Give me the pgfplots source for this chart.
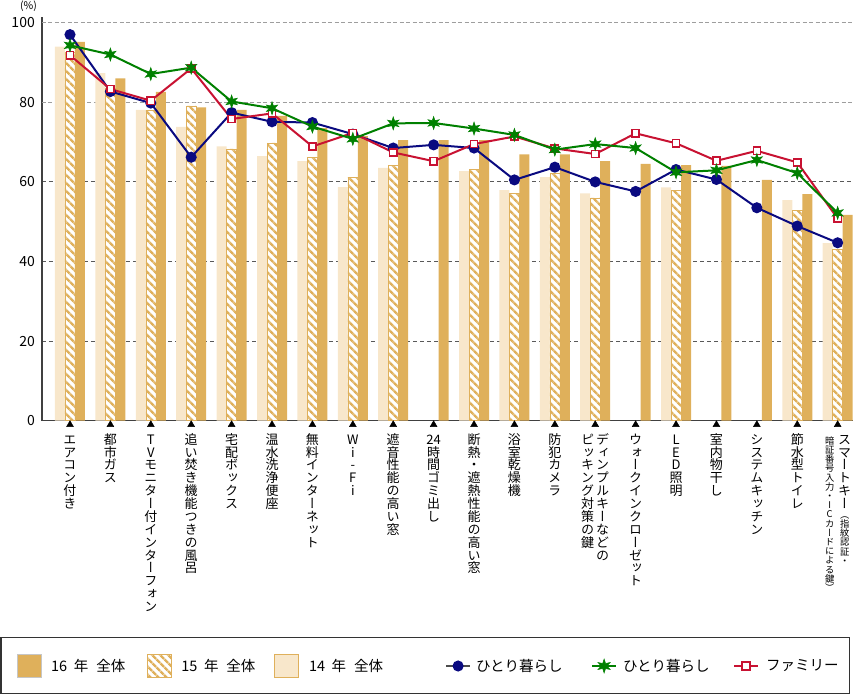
\documentclass[border=0pt]{standalone}
\usepackage{pgfplots}
\pgfplotsset{compat=1.18}
\usetikzlibrary{patterns.meta}
\usepackage{fontspec}
\setmainfont{Noto Sans CJK JP}
\newfontfamily\jpv[RawFeature=+vert]{Noto Sans CJK JP}

\definecolor{c16}{RGB}{223,176,91}
\definecolor{c14}{RGB}{248,231,203}
\definecolor{navyc}{RGB}{10,10,128}
\definecolor{greenc}{RGB}{0,128,0}
\definecolor{redc}{RGB}{200,18,50}

\pgfdeclareplotmark{star6}{%
  \pgfpathmoveto{\pgfpointpolar{90}{\pgfplotmarksize}}%
  \pgfpathlineto{\pgfpointpolar{120}{0.42\pgfplotmarksize}}%
  \pgfpathlineto{\pgfpointpolar{150}{\pgfplotmarksize}}%
  \pgfpathlineto{\pgfpointpolar{180}{0.42\pgfplotmarksize}}%
  \pgfpathlineto{\pgfpointpolar{210}{\pgfplotmarksize}}%
  \pgfpathlineto{\pgfpointpolar{240}{0.42\pgfplotmarksize}}%
  \pgfpathlineto{\pgfpointpolar{270}{\pgfplotmarksize}}%
  \pgfpathlineto{\pgfpointpolar{300}{0.42\pgfplotmarksize}}%
  \pgfpathlineto{\pgfpointpolar{330}{\pgfplotmarksize}}%
  \pgfpathlineto{\pgfpointpolar{0}{0.42\pgfplotmarksize}}%
  \pgfpathlineto{\pgfpointpolar{30}{\pgfplotmarksize}}%
  \pgfpathlineto{\pgfpointpolar{60}{0.42\pgfplotmarksize}}%
  \pgfpathclose
  \pgfusepathqfillstroke}

% vertical (tategaki) label helpers
\newdimen\vtw
\def\vtstop{VTSTOP}
\def\vtcell#1{\hbox to\vtw{\hss\vrule height.87em depth.12em width0pt\relax #1\hss}}
\def\vtloop#1{\ifx\vtstop#1\else\vtcell{#1}\expandafter\vtloop\fi}
\protected\def\labfont{\jpv\fontsize{13bp}{13bp}\selectfont}
\protected\def\labsfont{\jpv\fontsize{9.3bp}{9.3bp}\selectfont}
\protected\def\vl#1{\vtop{\offinterlineskip\labfont\vtw=13bp\vtloop#1\vtstop}}
\protected\def\vll#1#2{\hbox{\vl{#2}\kern2bp\vl{#1}}}
\protected\def\smartkey{\hbox{\vtop{\offinterlineskip\labsfont\vtw=11bp\vtloop 暗証番号入力・ICカードによる鍵）\vtstop}\kern3bp\vtop{\offinterlineskip\vtw=13bp\labfont\vtloop スマートキー\vtstop\labsfont\vtloop （指紋認証・\vtstop}}}
\protected\def\yr#1{#1\hspace{0.45em}年\hspace{0.55em}全体}

\pgfplotsset{
  sw16/.style={legend image code/.code={\draw[fill=c16,draw=gray!45,line width=0.5bp] (0bp,-11.7bp) rectangle (23.4bp,11.7bp);}},
  sw15/.style={legend image code/.code={\draw[fill=white,draw=c16,line width=0.8bp,postaction={pattern={Lines[angle=-45,distance=6bp,line width=3bp]},pattern color=c16}] (0bp,-11.7bp) rectangle (23.4bp,11.7bp);}},
  sw14/.style={legend image code/.code={\draw[fill=c14,draw=c16,line width=0.8bp] (0bp,-11.7bp) rectangle (23.4bp,11.7bp);}},
}

\begin{document}
\begin{tikzpicture}
\begin{axis}[
  scale only axis, width=811bp, height=404bp,
  xmin=-0.693, xmax=19.38, ymin=0, ymax=101.5,
  clip=false,
  axis lines*=left,
  axis line style={draw=black!75, line width=1.3bp},
  /pgf/number format/assume math mode=true,
  xtick={0,...,19},
  xticklabels={
    {\vl{エアコン付き}},
    {\vl{都市ガス}},
    {\vl{TVモニター付インターフォン}},
    {\vl{追い焚き機能つきの風呂}},
    {\vl{宅配ボックス}},
    {\vl{温水洗浄便座}},
    {\vl{無料インターネット}},
    {\vl{Wi-Fi}},
    {\vl{遮音性能の高い窓}},
    {\vl{{24}時間ゴミ出し}},
    {\vl{断熱・遮熱性能の高い窓}},
    {\vl{浴室乾燥機}},
    {\vl{防犯カメラ}},
    {\vll{ディンプルキーなどの}{ピッキング対策の鍵}},
    {\vl{ウォークインクローゼット}},
    {\vl{LED照明}},
    {\vl{室内物干し}},
    {\vl{システムキッチン}},
    {\vl{節水型トイレ}},
    {\smartkey}
  },
  xticklabel style={anchor=north, inner sep=0pt, yshift=-12bp},
  ytick={0,20,40,60},
  extra y ticks={80,100},
  yticklabel style={font=\fontsize{14bp}{14bp}\selectfont, inner sep=0pt, xshift=-7bp},
  major tick length=0pt,
  ymajorgrids,
  major grid style={draw=black!65, dash pattern=on 4bp off 3bp, line width=0.9bp},
  extra y tick style={ymajorgrids=true, major tick length=0pt, major grid style={draw=black!38, dash pattern=on 4bp off 2.5bp, line width=0.9bp}},
  legend image code/.code={\draw[mark repeat=2,mark phase=2,#1] plot coordinates {(0bp,0bp) (12bp,0bp) (24bp,0bp)};},
  legend columns=6,
  legend style={at={(0,0)}, anchor=west, xshift=-24.7bp, yshift=-245.3bp,
    draw=none, fill=none, inner sep=0pt, outer sep=0pt,
    /tikz/column sep=0pt, nodes={inner sep=0pt, outer sep=0pt},
    font=\fontsize{14.5bp}{14.5bp}\selectfont},
]
\coordinate (O) at (rel axis cs:0,0);

% legend entries
\addlegendimage{sw16}
\addlegendentry{\makebox[106bp][l]{\hspace{10bp}\yr{16}}}
\addlegendimage{sw15}
\addlegendentry{\makebox[102.9bp][l]{\hspace{10bp}\yr{15}}}
\addlegendimage{sw14}
\addlegendentry{\makebox[146.6bp][l]{\hspace{10.6bp}\yr{14}}}
\addlegendimage{draw=black!70, line width=2bp, mark=*, mark size=4.5bp, mark options={draw=navyc, fill=navyc}}
\addlegendentry{\makebox[120bp][l]{\hspace{5bp}ひとり暮らし}}
\addlegendimage{draw=greenc, line width=2bp, mark=star6, mark size=7bp, mark options={draw=greenc, fill=greenc, line width=0.5bp}}
\addlegendentry{\makebox[116bp][l]{\hspace{6bp}ひとり暮らし}}
\addlegendimage{draw=redc, line width=2bp, mark=square*, mark size=4bp, mark options={draw=redc, fill=white, line width=1.6bp}}
\addlegendentry{\makebox[89bp][l]{\hspace{7bp}ファミリー}}

% 14年 全体
\addplot[ybar, bar width=10bp, bar shift=-10bp, fill=c14, draw=none, forget plot] coordinates {
(0,94.0)(1,87.3)(2,78.1)(3,73.8)(4,68.9)(5,66.5)(6,65.2)(7,58.7)(8,63.5)(10,62.7)(11,57.9)(12,61.2)(13,57.1)(15,58.6)(18,55.4)(19,44.6)};
% 15年 全体
\addplot[ybar, bar width=10bp, bar shift=0bp, fill=white, draw=c16, line width=0.6bp,
  postaction={pattern={Lines[angle=-45,distance=6bp,line width=3bp]}, pattern color=c16}, forget plot] coordinates {
(0,92.5)(1,83.5)(2,78.0)(3,79.1)(4,68.3)(5,69.8)(6,66.2)(7,61.2)(8,64.2)(10,63.1)(11,57.1)(12,62.2)(13,56.0)(15,57.8)(18,52.9)(19,43.1)};
% 16年 全体
\addplot[ybar, bar width=10bp, bar shift=10bp, fill=c16, draw=none, forget plot] coordinates {
(0,95.2)(1,86.0)(2,82.6)(3,78.7)(4,78.1)(5,76.6)(6,73.5)(7,71.5)(8,70.5)(9,70.5)(10,70.5)(11,66.9)(12,66.9)(13,65.2)(14,64.5)(15,64.2)(16,64.0)(17,60.5)(18,56.9)(19,51.7)};

% category tick triangles
\addplot[only marks, mark=triangle*, mark size=4bp, black, forget plot] coordinates {
(0,-1)(1,-1)(2,-1)(3,-1)(4,-1)(5,-1)(6,-1)(7,-1)(8,-1)(9,-1)(10,-1)(11,-1)(12,-1)(13,-1)(14,-1)(15,-1)(16,-1)(17,-1)(18,-1)(19,-1)};

% ひとり暮らし (blue)
\addplot[navyc, line width=2bp, mark=*, mark size=4.5bp, forget plot] coordinates {
(0,97.0)(1,82.7)(2,79.8)(3,66.2)(4,77.4)(5,75.1)(6,74.9)(7,72.0)(8,68.5)(9,69.3)(10,68.5)(11,60.5)(12,63.7)(13,60.0)(14,57.6)(15,63.1)(16,60.6)(17,53.5)(18,48.9)(19,44.7)};
% ファミリー (red)
\addplot[redc, line width=2bp, mark=square*, mark size=3.6bp, mark options={fill=white, line width=1.5bp}, forget plot] coordinates {
(0,91.8)(1,83.3)(2,80.4)(3,88.5)(4,75.8)(5,77.2)(6,68.9)(7,72.3)(8,67.4)(9,65.2)(10,69.5)(11,71.4)(12,68.4)(13,67.0)(14,72.2)(15,69.7)(16,65.3)(17,67.8)(18,64.9)(19,50.8)};
% ひとり暮らし (green)
\addplot[greenc, line width=2bp, mark=star6, mark size=6.5bp, mark options={fill=greenc, line width=0.5bp}, forget plot] coordinates {
(0,94.3)(1,92.0)(2,87.1)(3,88.7)(4,80.2)(5,78.5)(6,73.9)(7,70.8)(8,74.7)(9,74.8)(10,73.4)(11,71.8)(12,68.1)(13,69.5)(14,68.5)(15,62.4)(16,62.9)(17,65.5)(18,62.2)(19,52.2)};

\node[font=\fontsize{10.5bp}{10.5bp}\selectfont] at ([shift={(-13.5bp,10.5bp)}]rel axis cs:0,1) {(\%)};
\end{axis}
\draw[black!80, line width=1.3bp] ([shift={(-41bp,-216.6bp)}]O) rectangle ([shift={(807.3bp,-272.6bp)}]O);
\pgfresetboundingbox
\path ([shift={(-42bp,-274.3bp)}]O) rectangle ([shift={(820bp,420.7bp)}]O);
\end{tikzpicture}
\end{document}
